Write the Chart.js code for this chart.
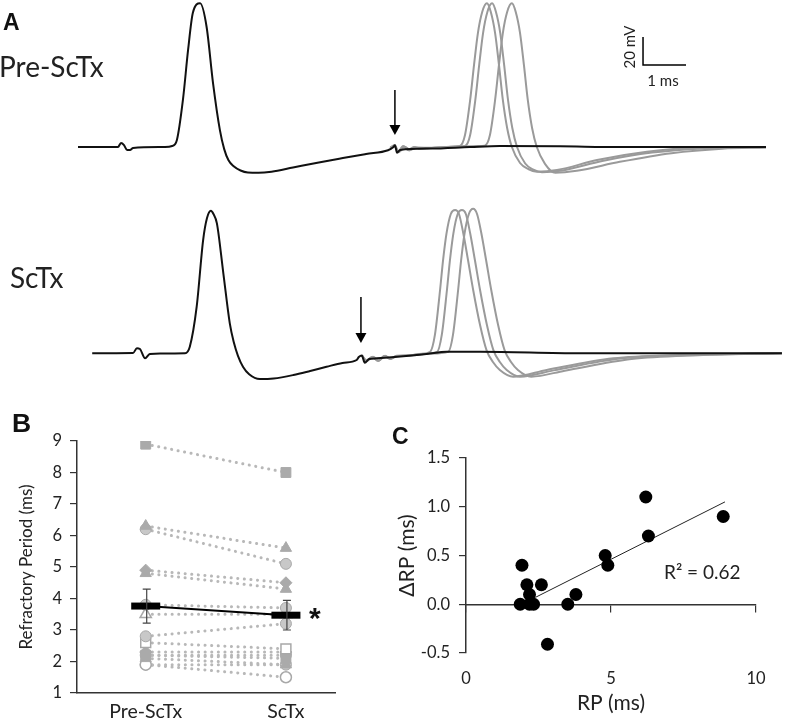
<!DOCTYPE html>
<html><head><meta charset="utf-8">
<script src="https://cdn.jsdelivr.net/npm/chart.js@4.4.0/dist/chart.umd.min.js"></script>
<style>
html,body{margin:0;padding:0;background:#fff;}
#wrap{position:relative;width:786px;height:720px;overflow:hidden;background:#fff;font-family:Lato, sans-serif;color:#222;}
.box{position:absolute;}
.lbl{position:absolute;line-height:1;white-space:nowrap;}
.letter{font-family:"Liberation Sans",Arial,sans-serif;font-weight:bold;color:#111;}
</style></head><body>
<div id="wrap">
  <div class="box" style="left:0;top:0;width:786px;height:190px"><canvas id="cTop" width="786" height="190" style="width:786px;height:190px"></canvas></div>
  <div class="box" style="left:0;top:206px;width:786px;height:190px"><canvas id="cBot" width="786" height="190" style="width:786px;height:190px"></canvas></div>
  <div class="box" style="left:0;top:400px;width:400px;height:320px"><canvas id="cB" width="400" height="320" style="width:400px;height:320px"></canvas></div>
  <div class="box" style="left:395px;top:400px;width:391px;height:320px"><canvas id="cC" width="391" height="320" style="width:391px;height:320px"></canvas></div>

  <div class="lbl letter" style="left:3px;top:11px;font-size:23px">A</div>
  <div class="lbl" style="left:-1px;top:52px;font-size:28px">Pre-ScTx</div>
  <div class="lbl" style="left:10px;top:263px;font-size:28px">ScTx</div>
  <div class="lbl" style="left:629px;top:47px;font-size:15px;transform:translate(-50%,-50%) rotate(-90deg)">20 mV</div>
  <div class="lbl" style="left:663px;top:80px;font-size:15px;transform:translate(-50%,-50%)">1 ms</div>
  <div class="lbl letter" style="left:12px;top:410px;font-size:26.5px">B</div>
  <div class="lbl letter" style="left:392px;top:425px;font-size:23px">C</div>
  <div class="lbl letter" style="left:309px;top:603px;font-size:30px">*</div>
  <div class="lbl" style="left:664px;top:562px;font-size:19px">R² = 0.62</div>
</div>
<script>
// ---------------- Panel A data (time in ms, membrane potential in mV) ----------------
const preBlack = [[0,-65],[0.93,-65],[1.0,-62.1],[1.07,-63.6],[1.14,-67.1],[1.21,-67.1],[1.28,-65.7],[2.02,-65],[2.19,-64.3],[2.30,-60],[2.44,-31.4],[2.56,4.3],[2.67,30.7],[2.84,37.6],[2.99,20.9],[3.14,-19.3],[3.30,-52.9],[3.40,-66.5],[3.50,-74.5],[3.62,-78.8],[3.78,-81.8],[3.95,-83.2],[4.20,-83.4],[4.50,-82.6],[5.00,-79.6],[5.60,-76],[6.16,-72.9],[6.70,-70],[7.21,-67.3],[7.33,-65.2],[7.37,-63.8],[7.42,-69.1],[7.49,-67.1],[8.19,-66.1],[9.12,-65],[9.81,-64.3],[11.21,-64.5],[12.6,-65],[14.47,-65],[16.0,-65]];
const preGray1 = [[7.26,-65.7],[7.37,-63.6],[7.44,-68.6],[7.56,-64.3],[7.67,-67.1],[7.81,-65],[7.95,-66.4],[8.19,-65.7],[8.77,-64.6],[8.88,-64.3],[9.00,-56.4],[9.12,-31.4],[9.21,-6.4],[9.30,16.4],[9.40,31.4],[9.51,37.6],[9.60,31.4],[9.70,16.4],[9.79,-6.4],[9.88,-31.4],[9.98,-51.4],[10.09,-65],[10.28,-76.4],[10.47,-80.7],[10.67,-82.6],[11.14,-81.4],[12.07,-74.3],[13.23,-68.4],[14.40,-65.5],[16.0,-65]];
const preGray2 = [[7.26,-65.7],[7.37,-63.9],[7.45,-68.2],[7.58,-64.6],[7.70,-67.4],[7.84,-65.2],[7.98,-66.2],[8.3,-65.5],[8.9,-64.6],[9.0,-64.3],[9.12,-56.4],[9.24,-31.4],[9.33,-6.4],[9.42,16.4],[9.52,31.4],[9.63,37.6],[9.72,31.4],[9.82,16.4],[9.91,-6.4],[10.0,-31.4],[10.1,-51.4],[10.21,-65],[10.4,-76.8],[10.59,-81.2],[10.79,-83],[11.26,-81.8],[12.19,-75],[13.35,-69],[14.52,-66],[16.0,-65.2]];
const preGray3 = [[7.26,-65.5],[7.36,-64],[7.46,-68.8],[7.6,-64.8],[7.72,-67],[7.9,-65.4],[8.2,-65.6],[8.8,-64.8],[9.3,-64.3],[9.46,-64],[9.58,-56.4],[9.7,-31.4],[9.79,-6.4],[9.88,16.4],[9.98,31.4],[10.09,37.6],[10.18,31.4],[10.28,16.4],[10.37,-6.4],[10.46,-31.4],[10.56,-51.4],[10.67,-65],[10.86,-77],[11.1,-83.4],[11.6,-82],[12.6,-75.6],[13.8,-69.4],[14.98,-66.2],[16.0,-65.4]];

const sctxBlack = [[0.33,-65.2],[1.28,-65],[1.37,-61.6],[1.44,-62.1],[1.56,-68.8],[1.67,-65.7],[1.91,-65.4],[2.49,-65.2],[2.60,-60.5],[2.76,-31.9],[2.91,15.7],[3.00,31.4],[3.09,36.6],[3.15,34.3],[3.23,27.6],[3.38,-8.1],[3.53,-43.8],[3.62,-57],[3.72,-67],[3.84,-75],[3.98,-80.2],[4.23,-83.6],[4.55,-83.2],[5.01,-80.7],[5.40,-77.8],[5.78,-74.8],[6.15,-72.1],[6.48,-70],[6.53,-67.9],[6.60,-66.8],[6.67,-71.9],[6.77,-69.3],[6.95,-68.8],[8.11,-65.7],[8.57,-64.1],[9.35,-64.1],[11.67,-65.2],[16.37,-65.2]];
const sctxGray1 = [[6.60,-66.8],[6.70,-70.7],[6.84,-67.9],[6.98,-70.7],[7.12,-67.1],[7.26,-69.3],[7.40,-67.1],[7.60,-67.1],[7.95,-65.7],[8.19,-64.1],[8.30,-52.1],[8.42,-20],[8.49,1.4],[8.57,20.5],[8.67,34.3],[8.77,37.1],[8.86,34.3],[8.96,20.5],[9.07,1.4],[9.19,-20],[9.35,-45],[9.50,-62.9],[9.65,-71.4],[9.81,-77.1],[10.12,-81.9],[10.90,-77.1],[12.45,-68.8],[14.0,-66.4],[16.37,-65.2]];
const sctxGray2 = [[6.6,-66.8],[6.72,-70.5],[6.86,-67.6],[7.0,-70.4],[7.14,-67],[7.28,-69],[7.42,-67.3],[7.7,-66.8],[8.0,-65.6],[8.35,-64.2],[8.46,-52.1],[8.58,-20],[8.65,1.4],[8.73,20.5],[8.83,34.3],[8.93,37.1],[9.02,34.3],[9.12,20.5],[9.23,1.4],[9.35,-20],[9.51,-45],[9.66,-62.9],[9.81,-71.4],[9.97,-77.1],[10.28,-81.9],[11.06,-77.4],[12.61,-69],[14.16,-66.5],[16.37,-65.2]];
const sctxGray3 = [[6.6,-66.6],[6.7,-70.2],[6.85,-68],[6.99,-70.6],[7.13,-67.2],[7.27,-69.1],[7.41,-67],[7.8,-66.6],[8.2,-65.4],[8.61,-64.1],[8.72,-52.1],[8.84,-20],[8.91,1.4],[8.99,20.5],[9.09,34.3],[9.19,38],[9.28,34.3],[9.38,20.5],[9.49,1.4],[9.61,-20],[9.77,-45],[9.92,-62.9],[10.07,-71.4],[10.23,-77.1],[10.54,-81.9],[11.32,-77.6],[12.87,-69.3],[14.42,-66.6],[16.37,-65.2]];

const preArrow  = {t: 7.37, from: -24.3, to: -56.4};
const sctxArrow = {t: 6.58, from: -25.0, to: -57.9};
const scaleBar  = {t: 13.14, v: -6.4, dt: 1, dv: 20};

// ---------------- Panel B data ----------------
const bCategories = ['Pre-ScTx', 'ScTx'];
const rpPre  = [8.9, 6.3, 6.2, 4.9, 4.8, 3.8, 3.5, 2.8, 2.6, 2.3, 2.2, 2.2, 2.1, 1.9, 1.9];
const rpSctx = [8.0, 5.6, 5.1, 4.5, 4.3, 3.7, 3.5, 3.2, 2.4, 2.3, 2.1, 2.2, 1.9, 1.5, 1.9];
const rpMarker = ['rect','triangle','circle','rectRot','triangle','circle','triangle','circle','rect','rectRot','rect','circle','triangle','circle','circle'];
const rpFilled = [true,true,true,true,true,true,false,true,false,true,true,true,true,false,true];
const rpMean = [3.76, 3.47];
const rpSD   = [0.54, 0.47];
const bYTicks = [1,2,3,4,5,6,7,8,9];

// ---------------- Panel C data ----------------
const cRP    = [1.93, 1.87, 2.10, 2.19, 2.19, 2.33, 2.60, 2.81, 3.51, 3.79, 4.80, 4.89, 6.20, 6.29, 8.87];
const cDelta = [0.40, 0.00, 0.20, 0.10, 0.00, 0.00, 0.20, -0.41, 0.00, 0.10, 0.50, 0.40, 1.10, 0.70, 0.90];
const cTrendX = [2.39, 8.93];
const cTrendY = [0.07, 1.05];

// ---------------- Shared ----------------
Chart.defaults.font.family = 'Lato, sans-serif';
Chart.defaults.color = '#222';
Chart.defaults.animation = false;
Chart.defaults.plugins.legend.display = false;
Chart.defaults.plugins.tooltip.enabled = false;

const T_MIN = -1.814, T_MAX = 16.465, V_MIN = -95.7, V_MAX = 40;
const BLACK = '#111', GRAY = '#9a9a9a';

function toXY(arr){ return arr.map(p => ({x: p[0], y: p[1]})); }
function trace(arr, color){
  return {data: toXY(arr), borderColor: color, borderWidth: 2, pointRadius: 0, fill: false,
          cubicInterpolationMode: 'monotone', showLine: true};
}
function arrowPlugin(arrow){
  return {id: 'arrow', afterDatasetsDraw(chart){
    const {ctx, scales:{x, y}} = chart;
    const px = x.getPixelForValue(arrow.t), y1 = y.getPixelForValue(arrow.from), y2 = y.getPixelForValue(arrow.to);
    ctx.save();
    ctx.strokeStyle = '#000'; ctx.fillStyle = '#000'; ctx.lineWidth = 1.5;
    ctx.beginPath(); ctx.moveTo(px, y1); ctx.lineTo(px, y2 - 8); ctx.stroke();
    ctx.beginPath(); ctx.moveTo(px - 5.5, y2 - 10); ctx.lineTo(px + 5.5, y2 - 10); ctx.lineTo(px, y2); ctx.closePath(); ctx.fill();
    ctx.restore();
  }};
}
const scaleBarPlugin = {id: 'scalebar', afterDatasetsDraw(chart){
  const {ctx, scales:{x, y}} = chart;
  const x0 = x.getPixelForValue(scaleBar.t), x1 = x.getPixelForValue(scaleBar.t + scaleBar.dt);
  const y0 = y.getPixelForValue(scaleBar.v), y1 = y.getPixelForValue(scaleBar.v + scaleBar.dv);
  ctx.save(); ctx.strokeStyle = '#000'; ctx.lineWidth = 1.5;
  ctx.beginPath(); ctx.moveTo(x0, y1); ctx.lineTo(x0, y0); ctx.lineTo(x1, y0); ctx.stroke();
  ctx.restore();
}};
function traceOptions(){
  return {responsive: false, devicePixelRatio: 1, layout: {padding: 0},
    scales: {x: {type: 'linear', min: T_MIN, max: T_MAX, display: false},
             y: {type: 'linear', min: V_MIN, max: V_MAX, display: false}}};
}

new Chart(document.getElementById('cTop'), {
  type: 'scatter',
  data: {datasets: [trace(preBlack, BLACK), trace(preGray1, GRAY), trace(preGray2, GRAY), trace(preGray3, GRAY)]},
  options: traceOptions(),
  plugins: [arrowPlugin(preArrow), scaleBarPlugin]
});
new Chart(document.getElementById('cBot'), {
  type: 'scatter',
  data: {datasets: [trace(sctxBlack, BLACK), trace(sctxGray1, GRAY), trace(sctxGray2, GRAY), trace(sctxGray3, GRAY)]},
  options: traceOptions(),
  plugins: [arrowPlugin(sctxArrow)]
});

// ---------------- Panel B chart ----------------
const markerSize = {rect: 7, triangle: 6.5, circle: 5.5, rectRot: 6};
const pairSets = rpPre.map((v, i) => ({
  data: [{x: 0, y: v}, {x: 1, y: rpSctx[i]}],
  showLine: true, order: 2,
  borderColor: '#b8b8b8', borderWidth: 3, borderDash: [0.1, 6.5], borderCapStyle: 'round',
  pointStyle: rpMarker[i], pointRadius: markerSize[rpMarker[i]],
  pointBackgroundColor: rpFilled[i] ? (rpMarker[i] === 'circle' ? '#c8c8c8' : '#aaaaaa') : '#ffffff',
  pointBorderColor: rpFilled[i] && rpMarker[i] !== 'circle' ? '#aaaaaa' : '#a8a8a8',
  pointBorderWidth: rpFilled[i] ? 1 : 1.5
}));
const meanSet = {
  data: rpMean.map((v, i) => ({x: i, y: v})), showLine: true, order: 0,
  borderColor: '#000', borderWidth: 2,
  pointStyle: 'line', pointRadius: 14.5, pointBorderWidth: 7, pointBorderColor: '#000', pointBackgroundColor: '#000'
};
const errorBarPlugin = {id: 'errbars', afterDatasetsDraw(chart){
  const {ctx, scales:{x, y}} = chart;
  ctx.save(); ctx.strokeStyle = '#444'; ctx.lineWidth = 1.2;
  rpMean.forEach((m, i) => {
    const px = x.getPixelForValue(i) + 1, yt = y.getPixelForValue(m + rpSD[i]), yb = y.getPixelForValue(m - rpSD[i]);
    ctx.beginPath();
    ctx.moveTo(px, yt); ctx.lineTo(px, yb);
    ctx.moveTo(px - 4, yt); ctx.lineTo(px + 4, yt);
    ctx.moveTo(px - 4, yb); ctx.lineTo(px + 4, yb);
    ctx.stroke();
  });
  ctx.restore();
}};
new Chart(document.getElementById('cB'), {
  type: 'scatter',
  data: {datasets: [meanSet, ...pairSets]},
  options: {
    responsive: false, devicePixelRatio: 1,
    layout: {padding: {top: 41, right: 65, left: 0, bottom: 0}},
    scales: {
      x: {type: 'linear', min: -0.49, max: 1.35,
          afterBuildTicks: s => { s.ticks = bCategories.map((c, i) => ({value: i})); },
          afterFit: s => { s.height = 27; },
          ticks: {callback: v => bCategories[v], font: {size: 19.5}, color: '#222', padding: 7, maxRotation: 0},
          grid: {display: false, drawTicks: false}, border: {display: true, color: '#333', width: 1.5}},
      y: {type: 'linear', min: 1, max: 9,
          afterBuildTicks: s => { s.ticks = bYTicks.map(v => ({value: v})); },
          afterFit: s => { s.width = 77; },
          ticks: {font: {size: 16.5}, color: '#222', padding: 8},
          grid: {display: true, drawOnChartArea: false, drawTicks: true, tickLength: 7, color: '#333', lineWidth: 1.2},
          border: {display: true, color: '#333', width: 1.5},
          title: {display: true, text: 'Refractory Period (ms)', font: {size: 17}, color: '#222', padding: {top: 16, bottom: 0}}}
    }
  },
  plugins: [errorBarPlugin]
});

// ---------------- Panel C chart ----------------
new Chart(document.getElementById('cC'), {
  type: 'scatter',
  data: {datasets: [
    {data: cRP.map((v, i) => ({x: v, y: cDelta[i]})), pointRadius: 6.5, pointBackgroundColor: '#000', pointBorderColor: '#000', pointBorderWidth: 0, showLine: false},
    {data: cTrendX.map((v, i) => ({x: v, y: cTrendY[i]})), showLine: true, borderColor: '#222', borderWidth: 1, pointRadius: 0}
  ]},
  options: {
    responsive: false, devicePixelRatio: 1,
    layout: {padding: {top: 58, right: 30, left: 0, bottom: 0}},
    scales: {
      x: {type: 'linear', min: 0, max: 10, position: 'bottom',
          ticks: {stepSize: 5, font: {size: 16.5}, color: '#222', padding: 16},
          afterFit: s => { s.height = 67; },
          grid: {display: false, drawTicks: false}, border: {display: false},
          title: {display: true, text: 'RP (ms)', font: {size: 21}, color: '#222', padding: {top: 0, bottom: 4}}},
      x2: {type: 'linear', axis: 'x', min: 0, max: 10, position: {y: 0},
          ticks: {stepSize: 5, display: false},
          grid: {display: true, drawOnChartArea: false, drawTicks: true, tickLength: 7, color: '#333', lineWidth: 1.2},
          border: {display: true, color: '#333', width: 1.5}},
      y: {type: 'linear', min: -0.5, max: 1.5,
          ticks: {stepSize: 0.5, font: {size: 16.5}, color: '#222', padding: 9, callback: v => v.toFixed(1)},
          afterFit: s => { s.width = 71; },
          grid: {display: true, drawOnChartArea: false, drawTicks: true, tickLength: 7, color: '#333', lineWidth: 1.2},
          border: {display: true, color: '#333', width: 1.5},
          title: {display: true, text: 'ΔRP (ms)', font: {size: 21}, color: '#222', padding: {top: 0, bottom: 0}}}
    }
  }
});
</script>
</body></html>
